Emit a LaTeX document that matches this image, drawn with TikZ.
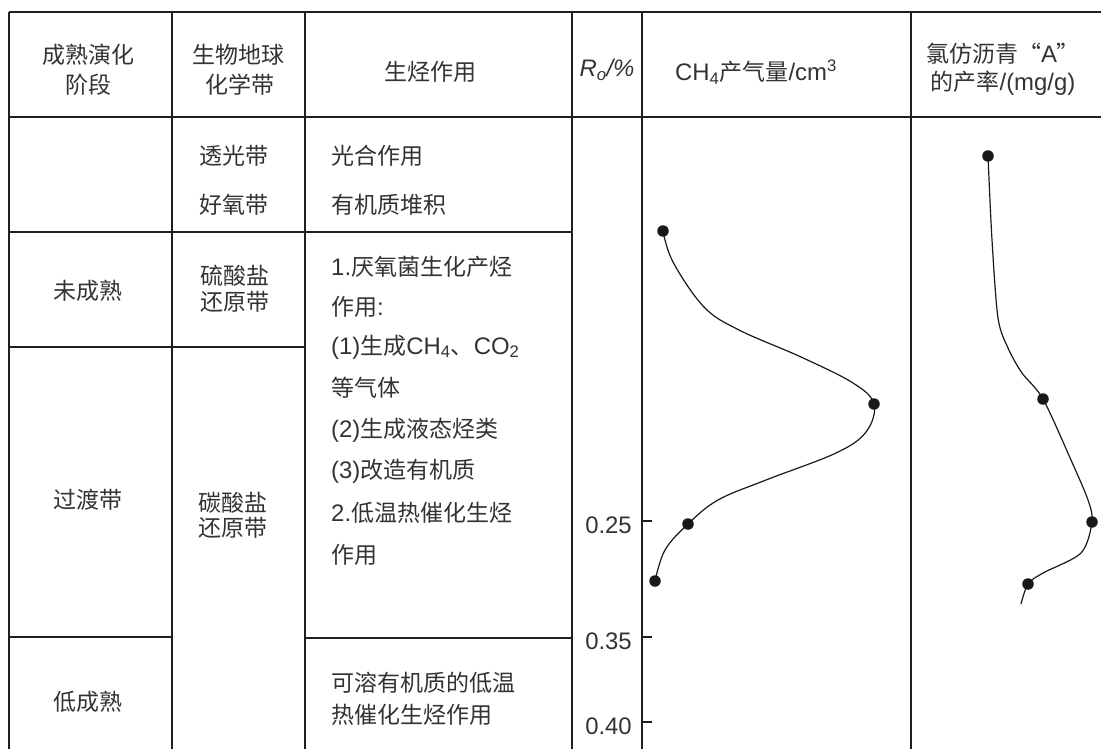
\documentclass[tikz,border=0pt]{standalone}
\usepackage{fontspec}
\setmainfont{Noto Sans CJK SC}
\newfontfamily\ar[Scale=1.04]{Liberation Sans}
\newcommand\en[1]{{\ar #1}}
\begin{document}
\begin{tikzpicture}[x=1pt,y=-1pt,
  every node/.style={text=black!80, font=\fontsize{23}{28}\selectfont, inner sep=0pt},
  tline/.style={line width=1.2pt, draw=black!88},
  curve/.style={line width=1.2pt, draw=black!90},
  ptdot/.style={circle, fill=black!90, minimum size=11.5pt, inner sep=0pt},
  lft/.style={anchor=west},
  rlab/.style={anchor=east}]
\useasboundingbox (0,0) rectangle (1101,749);
% ---- table grid ----
\foreach \x in {9,172,305,572,642,911} \draw[tline] (\x,12) -- (\x,749);
\draw[tline] (9,12) -- (1101,12);
\draw[tline] (9,117) -- (1101,117);
\draw[tline] (9,232) -- (572,232);
\draw[tline] (9,347) -- (305,347);
\draw[tline] (9,637) -- (172,637);
\draw[tline] (305,638) -- (572,638);
% ---- header ----
\node (h1a) at (88,55) {成熟演化};
\node (h1b) at (88,85) {阶段};
\node (h2a) at (238,55) {生物地球};
\node (h2b) at (240,85) {化学带};
\node (h3) at (430,72) {生烃作用};
\node (h4) at (607,70) {\en{\itshape R\textsubscript{o}/\%}};
\node (h5) at (756,72) {\en{CH\textsubscript{4}}产气量\en{/cm\textsuperscript{3}}};
\node (h6a) at (1003,54) {氯仿沥青“\en{A}”};
\node (h6b) at (1003,83) {的产率\en{/(mg/g)}};
% ---- row 2 ----
\node (r2b1) at (234,156) {透光带};
\node (r2b2) at (234,205) {好氧带};
\node[lft] (r2c1) at (331,156) {光合作用};
\node[lft] (r2c2) at (331,205) {有机质堆积};
% ---- row 3 ----
\node (r3a) at (88,291) {未成熟};
\node (r3b1) at (235,276) {硫酸盐};
\node (r3b2) at (235,302) {还原带};
\node[lft] (c3l1) at (331,267) {\en{1.}厌氧菌生化产烃};
\node[lft] (c3l2) at (331,307) {作用\en{:}};
\node[lft] (c3l3) at (331,347) {\en{(1)}生成\en{CH\textsubscript{4}}、\en{CO\textsubscript{2}}};
\node[lft] (c3l4) at (331,388) {等气体};
\node[lft] (c3l5) at (331,430) {\en{(2)}生成液态烃类};
\node[lft] (c3l6) at (331,471) {\en{(3)}改造有机质};
\node[lft] (c3l7) at (331,513) {\en{2.}低温热催化生烃};
\node[lft] (c3l8) at (331,555) {作用};
% ---- row 4 ----
\node (r4a) at (88,500) {过渡带};
\node (r4b1) at (233,503) {碳酸盐};
\node (r4b2) at (233,528) {还原带};
% ---- row 5 ----
\node (r5a) at (88,702) {低成熟};
\node[lft] (r5c1) at (331,683) {可溶有机质的低温};
\node[lft] (r5c2) at (331,715) {热催化生烃作用};
% ---- Ro axis ----
\draw[tline] (642,521) -- (652,521);
\draw[tline] (642,637) -- (652,637);
\draw[tline] (642,722) -- (652,722);
\node[rlab] (ro1) at (632,525) {\en{0.25}};
\node[rlab] (ro2) at (632,641) {\en{0.35}};
\node[rlab] (ro3) at (632,726) {\en{0.40}};
% ---- CH4 curve ----
\node[ptdot] (m1) at (663,231) {};
\node[ptdot] (m2) at (874,404) {};
\node[ptdot] (m3) at (688,524) {};
\node[ptdot] (m4) at (655,581) {};
\draw[curve] plot[smooth, tension=0.6] coordinates {(m1.center) (673,262) (704,307) (739,330) (801,357) (853,383) (m2.center) (866,432) (836,453) (766,480) (718,500) (m3.center) (665,550) (m4.center)};
% ---- chloroform curve ----
\node[ptdot] (a1) at (988,156) {};
\node[ptdot] (a2) at (1043,399) {};
\node[ptdot] (a3) at (1092,522) {};
\node[ptdot] (a4) at (1028,584) {};
\coordinate (aend) at (1021,604);
\draw[curve] plot[smooth, tension=0.5] coordinates {(a1.center) (992,240) (998,318) (1008,348) (1022,373) (a2.center) (1071,460) (1088,500) (a3.center) (1081,553) (1043,573) (a4.center) (aend)};
\end{tikzpicture}
\end{document}
